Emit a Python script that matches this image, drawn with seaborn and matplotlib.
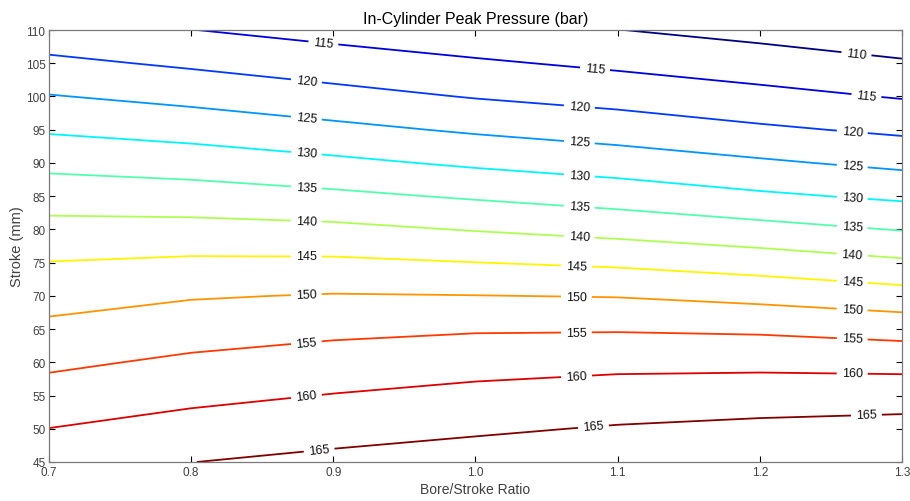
import numpy as np
import matplotlib
matplotlib.use("Agg")
import matplotlib.pyplot as plt
from matplotlib.colors import LinearSegmentedColormap
import seaborn as sns

# Grid axes
bore_stroke = [0.7, 0.8, 0.9, 1.0, 1.1, 1.2, 1.3]
stroke_mm = [45, 50, 55, 60, 65, 70, 75, 80, 85, 90, 95, 100, 105, 110]

# Peak pressure (bar) per bore/stroke column, listed from stroke 45 to 110 mm
p_070 = [162.97, 160.06, 157.05, 154.06, 151.12, 148.13, 145.12, 141.57, 137.78, 133.72, 129.45, 125.25, 121.08, 116.90]
p_080 = [164.95, 161.90, 158.82, 155.88, 152.81, 149.62, 145.83, 141.58, 137.24, 132.71, 128.06, 123.60, 119.25, 115.08]
p_090 = [166.20, 163.19, 160.18, 157.13, 153.91, 150.29, 145.86, 141.14, 136.04, 131.08, 126.25, 121.64, 117.38, 113.28]
p_100 = [167.28, 164.32, 161.36, 158.13, 154.55, 150.09, 145.05, 139.73, 134.42, 129.22, 124.35, 119.72, 115.65, 111.59]
p_110 = [168.00, 165.38, 162.22, 158.77, 154.62, 149.78, 144.17, 138.33, 132.83, 127.60, 122.74, 118.22, 114.05, 110.08]
p_120 = [168.80, 166.13, 162.61, 158.84, 154.22, 148.57, 142.67, 136.63, 130.80, 125.70, 120.78, 116.44, 112.38, 108.41]
p_130 = [169.00, 166.75, 162.78, 158.45, 153.06, 147.00, 140.80, 134.77, 129.13, 123.85, 119.11, 114.67, 110.57, 106.48]

levels = [110, 115, 120, 125, 130, 135, 140, 145, 150, 155, 160, 165]
x_ticks = [0.7, 0.8, 0.9, 1.0, 1.1, 1.2, 1.3]
x_ticklabels = ["0.7", "0.8", "0.9", "1.0", "1.1", "1.2", "1.3"]
y_ticks = [45, 50, 55, 60, 65, 70, 75, 80, 85, 90, 95, 100, 105, 110]

title = "In-Cylinder Peak Pressure (bar)"
xlabel = "Bore/Stroke Ratio"
ylabel = "Stroke (mm)"

# MATLAB-style jet colormap anchors
jet_anchors = [(0.0, (0.0, 0.0, 0.5)), (0.125, (0.0, 0.0, 1.0)), (0.375, (0.0, 1.0, 1.0)),
               (0.625, (1.0, 1.0, 0.0)), (0.875, (1.0, 0.0, 0.0)), (1.0, (0.5, 0.0, 0.0))]

sns.set_theme(style="ticks")
plt.rcParams['font.family'] = ['Liberation Sans', 'DejaVu Sans']

ml_jet = LinearSegmentedColormap.from_list("matlab_jet", jet_anchors)

Z = np.column_stack([p_070, p_080, p_090, p_100, p_110, p_120, p_130])
X, Y = np.meshgrid(bore_stroke, stroke_mm)

fig = plt.figure(figsize=(9.10, 5.02), dpi=100)
ax = fig.add_axes([0.0538, 0.0777, 0.9374, 0.8605])

cs = ax.contour(X, Y, Z, levels=levels, cmap=ml_jet, linewidths=1.3)

manual = [
    (0.893, 108.0), (0.881, 102.2), (0.881, 96.7), (0.881, 91.4), (0.881, 86.3),
    (0.881, 81.3), (0.881, 76.0), (0.881, 70.2), (0.881, 63.1), (0.881, 55.0), (0.890, 46.9),
    (1.084, 104.0), (1.073, 98.3), (1.073, 93.0), (1.073, 88.0), (1.073, 83.4),
    (1.073, 78.8), (1.071, 74.5), (1.071, 69.9), (1.071, 64.6), (1.071, 58.3), (1.083, 50.3),
    (1.268, 106.5), (1.275, 100.1), (1.265, 94.6), (1.265, 89.5), (1.265, 84.7), (1.265, 80.3),
    (1.265, 76.2), (1.265, 72.2), (1.265, 68.0), (1.265, 63.6), (1.265, 58.6), (1.275, 52.0),
]
ax.clabel(cs, levels=levels, manual=manual, inline=True, inline_spacing=5,
          fontsize=9, colors="#111111", fmt="%d")

ax.set_xlim(0.7, 1.3)
ax.set_ylim(45, 110)
ax.set_xticks(x_ticks)
ax.set_xticklabels(x_ticklabels)
ax.set_yticks(y_ticks)
ax.tick_params(direction="in", length=4, width=0.8, color="black",
               labelsize=8.5, labelcolor="#404040", top=True, right=True)
ax.tick_params(axis="x", pad=3)
ax.tick_params(axis="y", pad=2.5)
for s in ax.spines.values():
    s.set_color("#7a7a7a")
    s.set_linewidth(0.9)

ax.set_title(title, fontsize=11.5, color="black", pad=5)
ax.set_xlabel(xlabel, fontsize=10, color="#404040", labelpad=2.5)
ax.set_ylabel(ylabel, fontsize=10.5, color="#404040", labelpad=1)

fig.savefig("out.png", dpi=100, facecolor="white")
